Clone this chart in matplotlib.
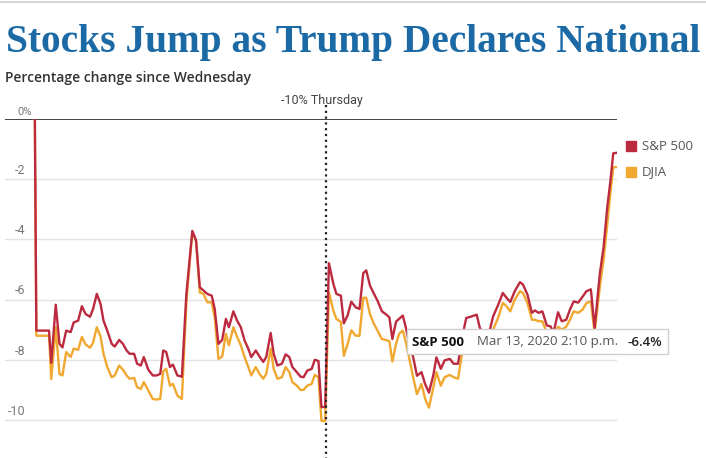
import matplotlib
matplotlib.use("Agg")
import matplotlib.pyplot as plt
import matplotlib.transforms as mtransforms
from matplotlib.patches import Rectangle

# trading minutes since Thursday open (Thursday 0-390, Friday 390-780)
thu_minutes = [0, 2, 19, 22, 28, 33, 37, 42, 48, 52, 58, 63, 68, 74, 78, 83, 88, 92, 97,
               103, 107, 113, 118, 123, 127, 133, 137, 142, 146, 152, 158, 163, 168, 172,
               176, 181, 185, 191, 197, 203, 211, 216, 221, 226, 231, 237, 241, 246, 251,
               256, 260, 266, 271, 276, 281, 286, 290, 296, 301, 306, 310, 316, 320, 325,
               331, 336, 341, 345, 351, 356, 360, 365, 371, 375, 380, 384, 389]
thu_spx = [0, -7.03, -7.03, -8.1, -6.17, -7.47, -7.59, -7.03, -7.08, -6.76, -6.7, -6.22,
           -6.48, -6.57, -6.31, -5.81, -6.14, -6.7, -7.03, -7.47, -7.56, -7.34, -7.47, -7.69,
           -7.8, -7.8, -8.13, -8.19, -7.91, -8.33, -8.52, -8.52, -8.47, -7.69, -7.74, -8.24,
           -8.16, -8.52, -8.56, -5.81, -3.72, -4.03, -5.59, -5.7, -5.81, -5.87, -6.31, -7.47,
           -7.34, -6.64, -6.92, -6.39, -6.7, -6.92, -7.36, -7.63, -7.91, -7.69, -7.89, -8.07,
           -7.91, -7.11, -7.8, -8.19, -8.13, -7.82, -7.91, -8.24, -8.41, -8.56, -8.58, -8.36,
           -8.3, -8.0, -8.04, -9.57, -9.57]
thu_djia = [0, -7.2, -7.2, -8.64, -6.92, -8.47, -8.52, -7.74, -7.91, -7.63, -7.67, -7.24,
            -7.49, -7.6, -7.43, -6.92, -7.22, -7.8, -8.24, -8.58, -8.52, -8.19, -8.33, -8.52,
            -8.63, -8.6, -8.91, -8.97, -8.74, -9.02, -9.3, -9.32, -9.3, -8.38, -8.3, -8.86,
            -8.8, -9.19, -9.3, -6.1, -3.75, -4.08, -5.76, -5.81, -6.09, -6.09, -6.59, -7.97,
            -7.89, -7.14, -7.52, -6.92, -7.24, -7.52, -7.91, -8.24, -8.52, -8.24, -8.47, -8.63,
            -8.47, -7.63, -8.3, -8.63, -8.58, -8.24, -8.41, -8.74, -8.86, -9.0, -9.0, -8.86,
            -8.8, -8.5, -8.58, -10.03, -10.03]

fri_minutes = [394, 400, 404, 410, 414, 419, 424, 430, 435, 440, 444, 449, 454, 459, 465,
               470, 475, 479, 484, 488, 493, 497, 502, 507, 512, 518, 523, 528, 534, 538,
               544, 549, 556, 561, 567, 573, 578, 585, 592, 596, 603, 610, 614, 621, 627,
               632, 637, 643, 650, 654, 660, 666, 670, 675, 680, 686, 691, 695, 701, 706,
               712, 717, 722, 728, 734, 739, 745, 750, 757, 762, 767, 771, 775, 780]
fri_spx = [-4.79, -5.48, -5.81, -5.87, -6.79, -6.53, -6.07, -6.26, -6.31, -5.12, -5.03,
           -5.53, -5.79, -6.03, -6.39, -6.48, -6.59, -7.31, -6.73, -6.64, -6.53, -6.92, -7.5,
           -7.92, -8.53, -8.41, -8.81, -9.09, -8.5, -7.92, -8.3, -8.02, -7.97, -8.13, -8.13,
           -7.2, -6.61, -6.56, -6.5, -6.92, -7.3, -6.97, -6.56, -6.16, -5.78, -5.94, -6.08,
           -5.72, -5.42, -5.5, -5.83, -6.44, -6.36, -6.44, -6.39, -6.86, -6.89, -7.1, -6.42,
           -6.72, -6.67, -6.33, -6.06, -6.1, -5.9, -5.72, -5.66, -6.94, -5.14, -4.26, -2.92,
           -2.1, -1.14, -1.12]
fri_djia = [-5.76, -6.37, -6.64, -6.74, -7.87, -7.48, -7.02, -7.2, -7.2, -5.94, -5.94,
            -6.48, -6.79, -7.03, -7.31, -7.34, -7.38, -8.06, -7.47, -7.14, -7.03, -7.4, -8.0,
            -8.6, -9.14, -8.8, -9.3, -9.59, -8.91, -8.41, -8.86, -8.58, -8.5, -8.58, -8.63,
            -7.7, -7.3, -7.3, -7.2, -7.6, -7.8, -7.3, -7.0, -6.59, -6.11, -6.22, -6.39, -6.0,
            -5.72, -5.78, -6.11, -6.67, -6.67, -6.72, -6.72, -7.1, -7.1, -7.3, -6.9, -7.0,
            -6.9, -6.67, -6.39, -6.44, -6.33, -6.11, -6.06, -7.1, -5.57, -4.68, -3.49, -2.49,
            -1.6, -1.6]

minutes = thu_minutes + fri_minutes
spx = thu_spx + fri_spx
djia = thu_djia + fri_djia

y_ticks = [0, -2, -4, -6, -8, -10]
y_labels = ["0%", "-2", "-4", "-6", "-8", "-10"]
series_names = ["S&P 500", "DJIA"]
thursday_close = 390

RED = "#bc2a40"
ORANGE = "#f0a830"
W, H = 706, 458

fig = plt.figure(figsize=(W / 100, H / 100), dpi=100)
ax = fig.add_axes([5 / W, 0, 612 / W, 339 / H])
ax.set_xlim(-40, 780)
ax.set_ylim(-339 / 30.1, 0)
ax.axis("off")

# gridlines and zero line
for v in y_ticks[1:]:
    ax.axhline(v, color="#e2e2e2", lw=1, zorder=0)
ax.axhline(0, color="#222222", lw=1.2, zorder=1)

ax.plot(minutes, djia, color=ORANGE, lw=1.7, zorder=2, solid_joinstyle="round")
ax.plot(minutes, spx, color=RED, lw=1.7, zorder=3, solid_joinstyle="round")

# y labels sitting above their gridlines
lab_tr = mtransforms.blended_transform_factory(ax.transAxes, ax.transData)
for v, lab in zip(y_ticks, y_labels):
    if v == 0:
        ax.text(12 / 612, v + 0.07, lab, transform=lab_tr, ha="left", va="bottom",
                fontsize=8, color="#777777", family="Roboto")
    else:
        ax.text(20 / 612, v + 0.07, lab, transform=lab_tr, ha="right", va="bottom",
                fontsize=9, color="#777777", family="Roboto")

# Thursday close marker
ax.plot([thursday_close, thursday_close], [0.47, -339 / 30.1], color="#222222", lw=1.6,
        linestyle=(0, (1, 1.6)), clip_on=False, zorder=4)
ax.text(thursday_close - 6, 0.6, "-10% Thursday", ha="center", va="center",
        fontsize=9, color="#444444", family="Roboto")

# title and subtitle
fig.text(6 / W, 1 - 52 / H, "Stocks Jump as Trump Declares National", ha="left",
         va="baseline", fontsize=28.4, fontweight="bold", family="Liberation Serif",
         color="#1b6aa5")
fig.add_artist(plt.Line2D([0, 1], [1 - 2 / H, 1 - 2 / H], color="#cccccc", lw=1.2))
fig.text(5 / W, 1 - 82 / H, "Percentage change since Wednesday", ha="left", va="baseline",
         fontsize=10, fontweight="semibold", family="Open Sans", color="#333333")

# legend
for i, (name, col) in enumerate(zip(series_names, [RED, ORANGE])):
    yc = 1 - (146 + 26 * i) / H
    fig.add_artist(Rectangle((626 / W, yc - 5 / H), 10 / W, 10 / H, color=col,
                             transform=fig.transFigure))
    fig.text(642 / W, yc, name, ha="left", va="center", fontsize=9.5,
             family="Open Sans", color="#555555")

# tooltip
fig.add_artist(Rectangle((407 / W, 1 - 354 / H), 261 / W, 25 / H, facecolor="white",
                         edgecolor="#d0d0d0", lw=1, transform=fig.transFigure, zorder=10))
ty = 1 - 342 / H
fig.text(412 / W, ty, "S&P 500", ha="left", va="center", fontsize=9.5,
         fontweight="bold", family="Open Sans", color="#111111", zorder=11)
fig.text(477 / W, ty, "Mar 13, 2020 2:10 p.m.", ha="left", va="center", fontsize=9.5,
         family="Open Sans", color="#555555", zorder=11)
fig.text(627 / W, ty, "-6.4%", ha="left", va="center", fontsize=9.5,
         fontweight="semibold", family="Open Sans", color="#222222", zorder=11)

fig.savefig("out.png", dpi=100)
